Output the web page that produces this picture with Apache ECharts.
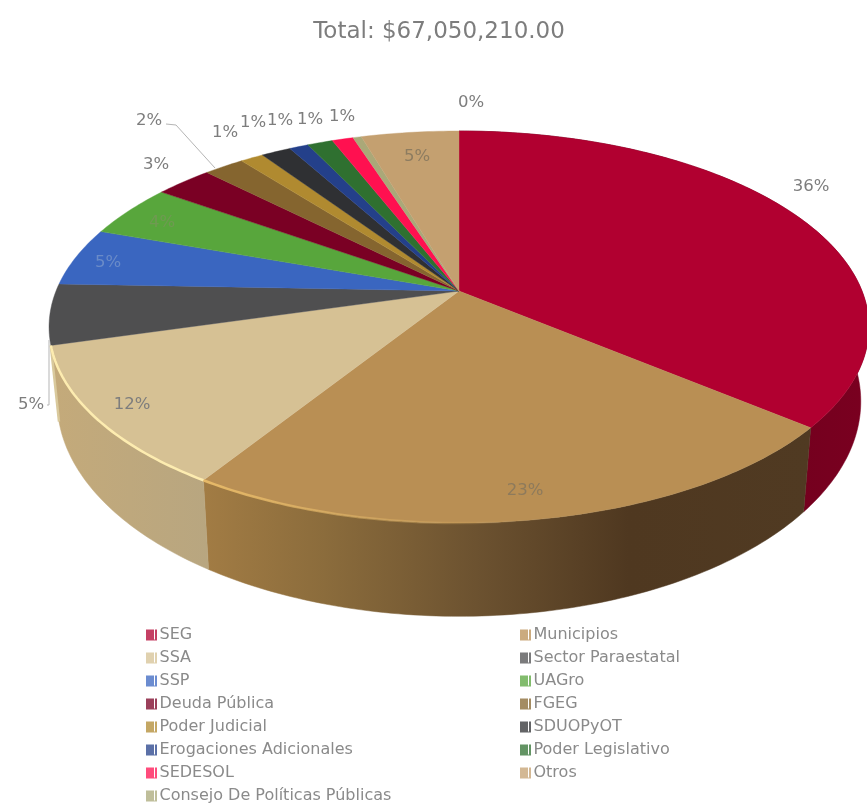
<!DOCTYPE html>
<html>
<head>
<meta charset="utf-8">
<style>html,body{margin:0;padding:0;background:#fff}#c{width:867px;height:806px;filter:blur(0.6px)}</style>
<script src="https://cdn.jsdelivr.net/npm/echarts@6/dist/echarts.min.js"></script>
</head>
<body>
<div id="c"></div>
<script>
// ---- data ----
const names = ['SEG','Municipios','SSA','Sector Paraestatal','SSP','UAGro','Deuda Pública','FGEG','Poder Judicial','SDUOPyOT','Erogaciones Adicionales','Poder Legislativo','SEDESOL','Consejo De Políticas Públicas','Otros'];
const shares = [36,23,11.6,5,4.8,4.4,2.7,1.9,1.1,1.4,0.9,1.2,1.0,0.4,4.6];
const totalLabel = 'Total: $67,050,210.00';

// ---- styles ----
const topColors = ['#b10030','#b98f54','#d6c194','#4f4f50','#3a66c0','#58a63c','#7a0024','#85652f','#b08a30','#2f3033','#24408a','#2f7030','#ff1050','#aaa878','#c4a070'];
const wallStops = {
  0:[[0,'#5a0016'],[1,'#7a0020']],
  1:[[0,'#a27c44'],[0.2,'#8b6c3c'],[0.45,'#6c5230'],[0.7,'#4f3820'],[1,'#503a22']],
  2:[[0,'#c4aa7a'],[1,'#b8a680']]
};
const rimColors = {1:'#e6b968',2:'#fdecb0'};
// label anchor points and leader lines (layout, in page pixels)
const labelSpots = [[811,187],[525,491],[132,405],[31,405],[108,263],[162,223],[156,165],[149,121],[225,133],[253,123],[280,121],[310,120],[342,117],[471,103],[417,157]];
const leaders = {3:[[47,405],[49,405],[49,340]],7:[[166,124],[176,125],[215,168]]};
const labelColors = {1:'#8d7a5c',4:'#6a8bc8',5:'#6f9a52',14:'#8d7c60'};
const fontFamily = '"DejaVu Sans", sans-serif';

// ---- tilted-disc projection ----
const cx=459, cy=291, A=403, B=189.4, K=0.1837;
function rimPoint(pct, lower){
  const t = pct/100*2*Math.PI, X=Math.sin(t), Y=Math.cos(t), w=1+K*Y;
  const px=A*X/w, py=-B*Y/w;
  return lower ? [cx+0.98*px, cy+71+1.096*py] : [cx+px, cy+py];
}
function arc(a,b,lower){
  const n=Math.max(2,Math.ceil((b-a)*4)), out=[];
  for(let i=0;i<=n;i++) out.push(rimPoint(a+(b-a)*i/n,lower));
  return out;
}
const starts=[]; shares.reduce((s,v,i)=>(starts[i]=s,s+v),0);

function sliceRenderer(idx){
  return function(params,api){
    const a=starts[idx], b=a+api.value(0);
    const top=arc(a,b,false);
    const kids=[
      {type:'polygon',z2:10,shape:{points:[[cx,cy]].concat(top)},style:{fill:topColors[idx],stroke:topColors[idx],lineWidth:0.4}}
    ];
    if(wallStops[idx]){
      const low=arc(a,b,true).reverse();
      const stops=wallStops[idx].map(s=>({offset:s[0],color:s[1]}));
      const xs=top.concat(low).map(p=>p[0]), x0=Math.min.apply(null,xs), x1=Math.max.apply(null,xs);
      const wallFill=new echarts.graphic.LinearGradient(x0,0,x1,0,stops,true);
      kids.push({type:'polygon',z2:1,shape:{points:top.concat(low)},style:{fill:wallFill,stroke:wallFill,lineWidth:0.5}});
    }
    if(rimColors[idx]){
      const rimFill=idx===1
        ? new echarts.graphic.LinearGradient(205,0,520,0,[{offset:0,color:rimColors[idx]},{offset:1,color:'rgba(230,185,104,0)'}],true)
        : rimColors[idx];
      kids.push({type:'polyline',z2:11,shape:{points:top},style:{fill:null,stroke:rimFill,lineWidth:2.5}});
    }
    if(idx===2){
      const e=rimPoint(b,false), f=rimPoint(b,true);
      kids.push({type:'polyline',z2:2,shape:{points:[e,f]},style:{fill:null,stroke:'#d9c99c',lineWidth:2.5}});
    }
    if(leaders[idx]) kids.push({type:'polyline',z2:12,shape:{points:leaders[idx]},style:{fill:null,stroke:'#b5b5b5',lineWidth:1}});
    kids.push({type:'text',z2:20,x:labelSpots[idx][0],y:labelSpots[idx][1],style:{
      text:Math.round(api.value(0))+'%',fill:labelColors[idx]||'#7d7d7d',font:'16.5px '+fontFamily,align:'center',verticalAlign:'middle'}});
    return {type:'group',children:kids};
  };
}

const icon='path://M0 0h8v10H0z M9 0h2v11H9z M0 10h9v1H0z';
const series=names.map((n,i)=>({
  type:'custom',name:n,coordinateSystem:'none',silent:true,animation:false,
  itemStyle:{color:topColors[i]},
  data:[[shares[i]]],
  renderItem:sliceRenderer(i)
}));
const legendBase={orient:'vertical',top:627,height:178,padding:0,itemWidth:12,itemHeight:11,itemGap:7,icon:icon,selectedMode:false,
  itemStyle:{opacity:0.75},
  textStyle:{color:'#8a8a8a',fontSize:16,fontFamily:fontFamily,padding:[0,0,0,-3]}};
const chart=echarts.init(document.getElementById('c'),null,{renderer:'canvas'});
chart.setOption({
  animation:false,
  backgroundColor:'#fff',
  title:{text:totalLabel,left:434,top:16,textAlign:'center',textStyle:{color:'#7d7d7d',fontSize:23,fontWeight:'normal',fontFamily:fontFamily}},
  legend:[
    Object.assign({},legendBase,{left:146,data:names.filter((_,i)=>i<13?i%2===0:i===13)}),
    Object.assign({},legendBase,{left:520,data:names.filter((_,i)=>i<13?i%2===1:i===14)})
  ],
  series:series
});
</script>
</body>
</html>
